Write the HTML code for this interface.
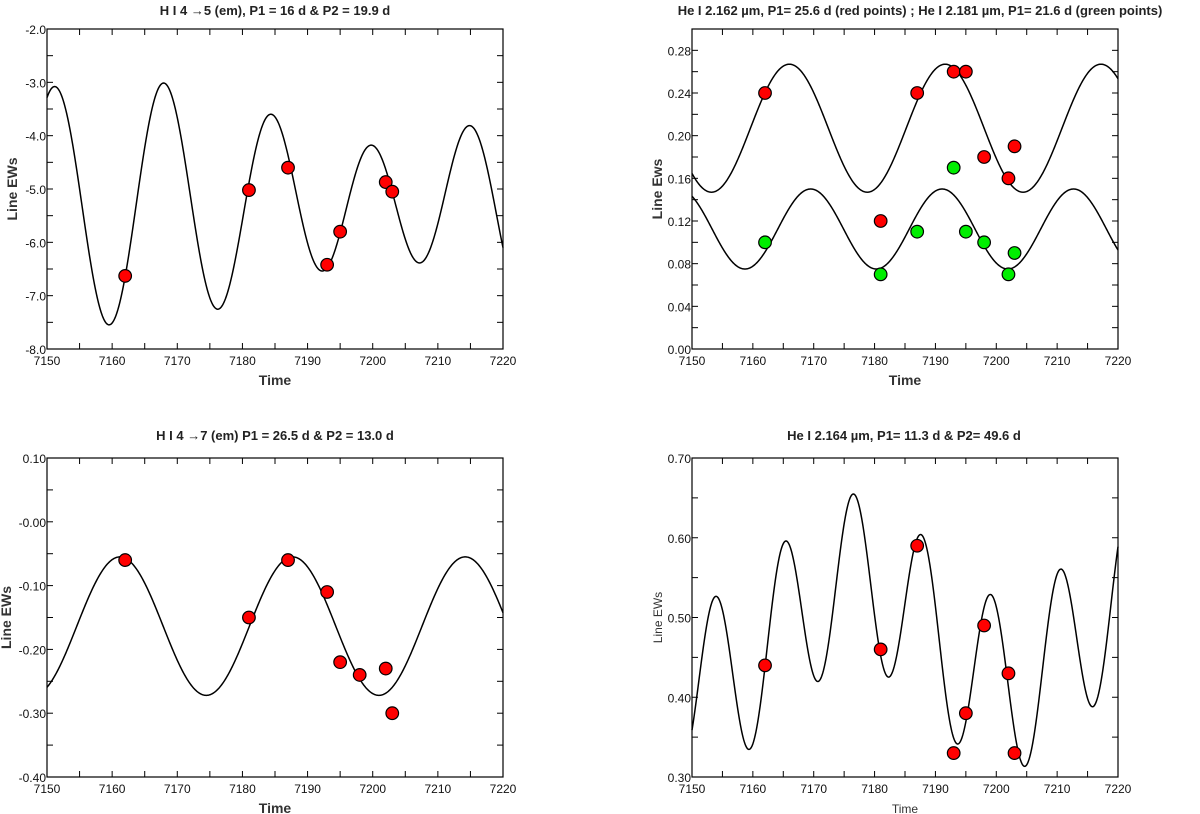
<!DOCTYPE html>
<html><head><meta charset="utf-8"><style>
html,body{margin:0;padding:0;background:#fff;}
svg{display:block;font-family:"Liberation Sans",Arial,sans-serif;}
</style></head><body>
<svg id="fig" width="1200" height="814" viewBox="0 0 1200 814" xmlns="http://www.w3.org/2000/svg"></svg>
<script>
// ---- Panel data ----
const timeTicks = [7150, 7160, 7170, 7180, 7190, 7200, 7210, 7220];
const obsTimes = [7162, 7181, 7187, 7193, 7195, 7202, 7203];
const obsTimes8 = [7162, 7181, 7187, 7193, 7195, 7198, 7202, 7203];

const p1Values = [-6.63, -5.02, -4.6, -6.42, -5.8, -4.87, -5.05];
const p1Ticks = [-2.0, -3.0, -4.0, -5.0, -6.0, -7.0, -8.0];
// fit: mean, amplitudes, periods, peak epochs
const p1Mean = [-5.25];
const p1Amps = [1.68, 0.62];
const p1Periods = [16, 19.9];
const p1Epochs = [7167.6, 7169.2];

const p2Red = [0.24, 0.12, 0.24, 0.26, 0.26, 0.18, 0.16, 0.19];
const p2Green = [0.10, 0.07, 0.11, 0.17, 0.11, 0.10, 0.07, 0.09];
const p2Ticks = [0.00, 0.04, 0.08, 0.12, 0.16, 0.20, 0.24, 0.28];
const p2RedFit = [0.207, 0.060, 25.6, 7166.0];
const p2GreenFit = [0.1125, 0.0375, 21.6, 7169.5];

const p3Values = [-0.06, -0.15, -0.06, -0.11, -0.22, -0.24, -0.23, -0.30];
const p3Ticks = [0.10, 0.00, -0.10, -0.20, -0.30, -0.40];
const p3Labels = ["0.10", "-0.00", "-0.10", "-0.20", "-0.30", "-0.40"];
const p3Fit = [-0.1635, 0.1085, 26.5, 7161.2];

const p4Values = [0.44, 0.46, 0.59, 0.33, 0.38, 0.49, 0.43, 0.33];
const p4Ticks = [0.30, 0.40, 0.50, 0.60, 0.70];
const p4Mean = [0.482];
const p4Amps = [0.108, 0.065];
const p4Periods = [11.3, 49.6];
const p4Epochs = [7176.5, 7177.0];

const NS = "http://www.w3.org/2000/svg";
const svg = document.getElementById('fig');
function mk(tag, attrs, parent) {
  const e = document.createElementNS(NS, tag);
  for (const k in attrs) e.setAttribute(k, attrs[k]);
  (parent || svg).appendChild(e);
  return e;
}

function panel(o) {
  const g = mk('g', {});
  
  
  const xs = v => o.L + (v - 7150) / 70 * (o.R - o.L);
  const ys = v => o.B - (v - o.ymin) / (o.ymax - o.ymin) * (o.B - o.T);
  const t = mk('text', {x: o.tx, y: o.ty, 'text-anchor': 'middle', 'font-size': 13, 'font-weight': 'bold', fill: '#222'}, g);
  t.textContent = o.title;
  
  
  const fr = mk('rect', {x: o.L, y: o.T, width: o.R - o.L, height: o.B - o.T, fill: 'none', stroke: '#000', 'stroke-width': 1.2}, g);
  
  
  for (let v = 7150; v <= 7220; v += 5) {
    const x = xs(v);
    mk('line', {x1: x, x2: x, y1: o.B, y2: o.B - 6, stroke: '#000'}, g);
    mk('line', {x1: x, x2: x, y1: o.T, y2: o.T + 6, stroke: '#000'}, g);
  }
  timeTicks.forEach(v => {
    const tl = mk('text', {x: xs(v), y: o.B + 16, 'text-anchor': 'middle', 'font-size': 12, fill: '#111'}, g);
    tl.textContent = v;
    
    
  });
  for (let v = o.ymin; v <= o.ymax + 1e-9; v += o.minor) {
    const y = ys(v);
    mk('line', {x1: o.L, x2: o.L + 6, y1: y, y2: y, stroke: '#000'}, g);
    mk('line', {x1: o.R, x2: o.R - 6, y1: y, y2: y, stroke: '#000'}, g);
  }
  o.yticks.forEach((v, i) => {
    const yl = mk('text', {x: o.L - 1, y: ys(v) + 5, 'text-anchor': 'end', 'font-size': 12, fill: '#111'}, g);
    yl.textContent = o.ylabels ? o.ylabels[i] : v.toFixed(o.dec);
    
    
  });
  const xt = mk('text', {x: (o.L + o.R) / 2, y: o.B + 36, 'text-anchor': 'middle', 'font-size': o.boldAxis ? 14 : 12, 'font-weight': o.boldAxis ? 'bold' : 'normal', fill: '#333'}, g);
  xt.textContent = 'Time';
  
  
  const yc = (o.T + o.B) / 2;
  const yt = mk('text', {x: o.ylx, y: yc, 'text-anchor': 'middle', 'font-size': o.boldAxis ? 14 : 12, 'font-weight': o.boldAxis ? 'bold' : 'normal', fill: '#333', transform: `rotate(-90 ${o.ylx} ${yc})`}, g);
  yt.textContent = o.ytitle;
  
  
  o.curves.forEach(f => {
    let d = '';
    for (let i = 0; i <= 700; i++) {
      const tt = 7150 + i * 0.1;
      d += (i ? 'L' : 'M') + xs(tt).toFixed(2) + ',' + ys(f(tt)).toFixed(2);
    }
    const p = mk('path', {d, fill: 'none', stroke: '#000', 'stroke-width': 1.5}, g);
    
    
  });
  o.series.forEach(s => {
    s.vals.forEach((v, i) => {
      const c = mk('circle', {cx: xs(s.times[i]), cy: ys(v), r: 6.3, fill: s.color, stroke: '#000', 'stroke-width': 1.2}, g);
      
      
    });
  });
}
function sumFit(mean, amps, per, ep) {
  return t => mean[0] + amps.reduce((s, a, i) => s + a * Math.cos(2 * Math.PI * (t - ep[i]) / per[i]), 0);
}
function oneFit(f) { return t => f[0] + f[1] * Math.cos(2 * Math.PI * (t - f[3]) / f[2]); }

panel({name: 'panel-h-4-5', title: 'H I 4 \u21925 (em), P1 = 16 d & P2 = 19.9 d', tx: 275, ty: 15,
  L: 47, R: 503, T: 29, B: 349, ymin: -8, ymax: -2, minor: 0.5, yticks: p1Ticks, dec: 1,
  ytitle: 'Line EWs', ylx: 17, boldAxis: true,
  curves: [sumFit(p1Mean, p1Amps, p1Periods, p1Epochs)],
  series: [{vals: p1Values, times: obsTimes, color: '#f00', pname: 'data-point'}]});

panel({name: 'panel-he-2162-2181', title: 'He I 2.162 \u00b5m, P1= 25.6 d (red points) ;  He I 2.181 \u00b5m, P1= 21.6 d (green points)', tx: 920, ty: 15,
  L: 692, R: 1118, T: 29, B: 349, ymin: 0, ymax: 0.30, minor: 0.02, yticks: p2Ticks, dec: 2,
  ytitle: 'Line Ews', ylx: 662, boldAxis: true,
  curves: [oneFit(p2RedFit), oneFit(p2GreenFit)],
  series: [{vals: p2Red, times: obsTimes8, color: '#f00', pname: 'red-point'},
           {vals: p2Green, times: obsTimes8, color: '#0e0', pname: 'green-point'}]});

panel({name: 'panel-h-4-7', title: 'H I 4 \u21927 (em)  P1 = 26.5 d & P2 = 13.0 d', tx: 275, ty: 440,
  L: 47, R: 503, T: 458, B: 777, ymin: -0.40, ymax: 0.10, minor: 0.05, yticks: p3Ticks, ylabels: p3Labels,
  ytitle: 'Line EWs', ylx: 11, boldAxis: true,
  curves: [oneFit(p3Fit)],
  series: [{vals: p3Values, times: obsTimes8, color: '#f00', pname: 'data-point'}]});

panel({name: 'panel-he-2164', title: 'He I 2.164 \u00b5m, P1= 11.3 d & P2= 49.6 d', tx: 904, ty: 440,
  L: 692, R: 1118, T: 458, B: 777, ymin: 0.30, ymax: 0.70, minor: 0.05, yticks: p4Ticks, dec: 2,
  ytitle: 'Line EWs', ylx: 662, boldAxis: false,
  curves: [sumFit(p4Mean, p4Amps, p4Periods, p4Epochs)],
  series: [{vals: p4Values, times: obsTimes8, color: '#f00', pname: 'data-point'}]});
</script>
</body></html>
